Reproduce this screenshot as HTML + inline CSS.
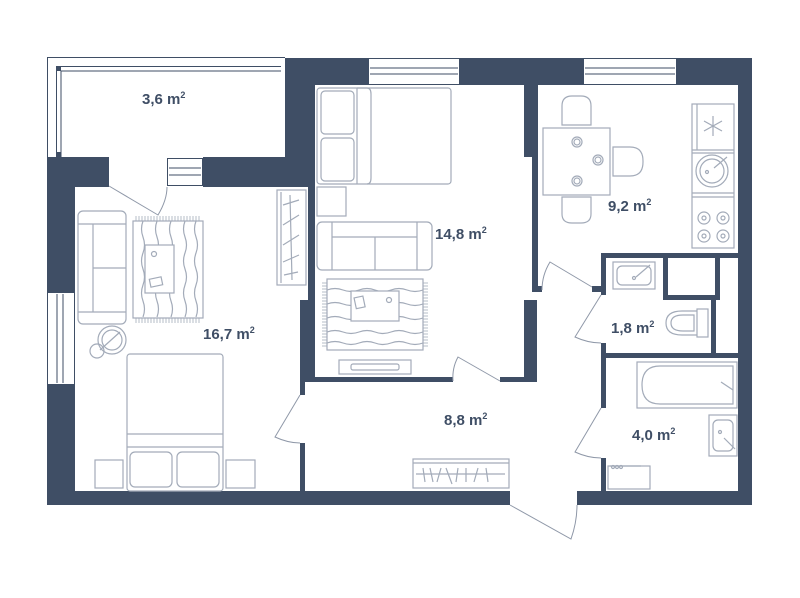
<!DOCTYPE html>
<html><head><meta charset="utf-8"><style>
html,body{margin:0;padding:0;background:#fff;}
svg{display:block;}
text{font-family:"Liberation Sans",sans-serif;font-weight:bold;fill:#3f4e65;}
</style></head><body>
<svg width="800" height="598" viewBox="0 0 800 598" xmlns="http://www.w3.org/2000/svg">
<defs>
<pattern id="fr" width="3" height="6" patternUnits="userSpaceOnUse"><line x1="1" y1="0" x2="1" y2="6" stroke="#a3abb9" stroke-width="0.8"/></pattern>
<pattern id="frv" width="6" height="3" patternUnits="userSpaceOnUse"><line x1="0" y1="1" x2="6" y2="1" stroke="#a3abb9" stroke-width="0.8"/></pattern>
</defs>
<g fill="#3f4e65">
<!-- top wall -->
<rect x="285" y="58" width="467" height="27"/>
<rect x="285" y="58" width="30" height="129"/>
<rect x="203" y="157" width="112" height="30"/>
<rect x="47" y="157" width="62" height="30"/>
<rect x="47" y="157" width="28" height="135"/>
<rect x="47" y="385" width="28" height="120"/>
<rect x="47" y="491" width="463" height="14"/>
<rect x="577" y="491" width="175" height="14"/>
<rect x="738" y="58" width="14" height="447"/>
<!-- living/bedroom wall -->
<rect x="308" y="185" width="7" height="120"/>
<rect x="300" y="300" width="15" height="82"/>
<rect x="300" y="377" width="153" height="5"/>
<rect x="500" y="377" width="33" height="5"/>
<rect x="300" y="377" width="5" height="18"/>
<rect x="300" y="443" width="5" height="50"/>
<!-- living/kitchen wall -->
<rect x="524" y="58" width="14" height="99"/>
<rect x="532" y="150" width="6" height="140"/>
<rect x="532" y="286" width="10" height="6"/>
<rect x="524" y="300" width="13" height="82"/>
<!-- bathroom block -->
<rect x="601" y="253" width="137" height="5"/>
<rect x="592" y="286" width="14" height="6"/>
<rect x="601" y="253" width="5" height="42"/>
<rect x="601" y="343" width="5" height="65"/>
<rect x="601" y="458" width="5" height="35"/>
<rect x="601" y="353" width="137" height="5"/>
<rect x="663" y="253" width="57" height="47"/>
<rect x="711" y="295" width="5" height="60"/>
</g>
<!-- shaft inner -->
<rect x="668" y="258" width="47" height="37" fill="#fff"/>
<!-- windows -->
<g fill="#fff" stroke="#a3abb9" stroke-width="1">
<rect x="368" y="58" width="92" height="27" stroke="none"/>
<rect x="583" y="58" width="94" height="27" stroke="none"/>
<rect x="167" y="158" width="36" height="28" stroke="none"/>
<rect x="47" y="292" width="28" height="93" stroke="none"/>
</g>
<g stroke="#3f4e65" stroke-width="1" fill="none">
<rect x="368.5" y="58.5" width="91" height="26"/>
<line x1="370" y1="68" x2="458" y2="68"/><line x1="370" y1="74" x2="458" y2="74"/>
<rect x="583.5" y="58.5" width="93" height="26"/>
<line x1="585" y1="68" x2="675" y2="68"/><line x1="585" y1="74" x2="675" y2="74"/>
<rect x="167.5" y="158.5" width="35" height="27"/>
<line x1="169" y1="168" x2="201" y2="168"/><line x1="169" y1="175" x2="201" y2="175"/>
<rect x="47.5" y="292.5" width="27" height="92"/>
<line x1="57" y1="294" x2="57" y2="383"/><line x1="63" y1="294" x2="63" y2="383"/>
<!-- balcony -->
<path d="M47.5 157 V57.5 H285"/>
<path d="M56.5 157 V66.5 H281"/>
<path d="M61 157 V71 H281"/>
</g>
<rect x="56" y="66" width="5" height="5" fill="#3f4e65"/>
<rect x="56" y="152" width="5" height="5" fill="#3f4e65"/>
<!-- doors -->
<g stroke="#8f98a8" stroke-width="1" fill="none">
<path d="M109 186 L158 215 Q167 200 167 187"/>
<path d="M300 395 L275 437 Q288 443 300 443"/>
<path d="M500 381 L458 357 Q452 368 453 381"/>
<path d="M592 287 L550 262 Q542 275 542 290"/>
<path d="M601 295 L575 337 Q588 343 601 343"/>
<path d="M601 408 L575 452 Q588 458 601 458"/>
<path d="M510 505 L571 539 Q577 522 577 505"/>
</g>
<!-- furniture -->
<g stroke="#a3abb9" stroke-width="1.2" fill="none">
<!-- living bed -->
<rect x="317" y="88" width="134" height="96" rx="3"/>
<rect x="321" y="91" width="33" height="43" rx="4"/>
<rect x="321" y="138" width="33" height="43" rx="4"/>
<line x1="357" y1="88" x2="357" y2="184"/>
<path d="M357 88 H367 Q371 88 371 94 V178 Q371 184 367 184"/>
<rect x="317" y="187" width="29" height="29"/>
<!-- living sofa -->
<rect x="317" y="222" width="115" height="48" rx="5"/>
<path d="M332 222 V270 M417 222 V270 M332 237 H417 M375 237 V270"/>
<!-- living rug -->
<rect x="327" y="279" width="96" height="71"/>
<rect x="322" y="281" width="5" height="67" fill="url(#frv)" stroke="none"/>
<rect x="423" y="281" width="5" height="67" fill="url(#frv)" stroke="none"/>
<path d="M327 290 q8 -3 16 0 t16 0 t16 0 t16 0 t16 0 t16 0 M327 304 q8 -3 16 0 t16 0 t16 0 t16 0 t16 0 t16 0 M327 318 q8 -3 16 0 t16 0 t16 0 t16 0 t16 0 t16 0 M327 332 q8 -3 16 0 t16 0 t16 0 t16 0 t16 0 t16 0 M327 343 q8 -3 16 0 t16 0 t16 0 t16 0 t16 0 t16 0"/>
<rect x="351" y="291" width="48" height="30" fill="#fff"/>
<rect x="355" y="297" width="9" height="11" transform="rotate(-12 359 302)"/>
<circle cx="389" cy="300" r="2.5"/>
<!-- tv -->
<rect x="339" y="360" width="72" height="14"/>
<rect x="351" y="364" width="48" height="6" rx="2"/>
<!-- bedroom sofa -->
<rect x="78" y="211" width="48" height="113" rx="5"/>
<path d="M93 224 V312 M78 224 H126 M78 312 H126 M93 268 H126"/>
<!-- bedroom rug -->
<rect x="133" y="221" width="70" height="97"/>
<rect x="135" y="216" width="66" height="5" fill="url(#fr)" stroke="none"/>
<rect x="135" y="318" width="66" height="5" fill="url(#fr)" stroke="none"/>
<path d="M143 221 q-3 8 0 16 t0 16 t0 16 t0 16 t0 16 t0 16 M157 221 q-3 8 0 16 t0 16 t0 16 t0 16 t0 16 t0 16 M171 221 q-3 8 0 16 t0 16 t0 16 t0 16 t0 16 t0 16 M185 221 q-3 8 0 16 t0 16 t0 16 t0 16 t0 16 t0 16 M196 221 q-3 8 0 16 t0 16 t0 16 t0 16 t0 16 t0 16"/>
<rect x="145" y="245" width="29" height="48" fill="#fff"/>
<circle cx="154" cy="254" r="2.5"/>
<rect x="150" y="278" width="12" height="8" transform="rotate(-12 156 282)"/>
<!-- wardrobe -->
<rect x="277" y="190" width="29" height="95"/>
<line x1="281" y1="192" x2="281" y2="283"/>
<path d="M290 195 L292 280 M283 205 L299 200 M283 225 L299 215 M283 245 L299 235 M283 262 L299 255 M284 275 L298 272"/>
<!-- chair -->
<circle cx="112" cy="340" r="14"/><circle cx="112" cy="340" r="10"/>
<circle cx="97" cy="351" r="7"/>
<line x1="100" y1="350" x2="120" y2="332"/>
<!-- bedroom bed -->
<rect x="127" y="354" width="96" height="137" rx="3"/>
<line x1="127" y1="434" x2="223" y2="434"/><line x1="127" y1="447" x2="223" y2="447"/>
<rect x="130" y="452" width="42" height="35" rx="5"/>
<rect x="177" y="452" width="42" height="35" rx="5"/>
<rect x="95" y="460" width="28" height="28"/>
<rect x="226" y="460" width="29" height="28"/>
<!-- hallway shelf -->
<rect x="413" y="459" width="96" height="29"/>
<line x1="413" y1="463" x2="509" y2="463"/>
<path d="M416 474 H505 M423 468 L425 482 M430 468 L433 482 M437 482 L441 468 M446 468 L452 484 M458 468 L456 482 M466 468 L466 482 M474 482 L478 468 M486 468 L488 482"/>
<!-- kitchen -->
<rect x="543" y="128" width="67" height="67"/>
<path d="M562 125 V106 Q562 96 572 96 H581 Q591 96 591 106 V125 Z"/>
<path d="M562 197 V214 Q562 223 572 223 H581 Q591 223 591 214 V197 Z"/>
<path d="M613 147 H630 Q643 147 643 161 V162 Q643 176 630 176 H613 Z"/>
<circle cx="577" cy="142" r="5"/><circle cx="577" cy="142" r="3"/>
<circle cx="577" cy="181" r="5"/><circle cx="577" cy="181" r="3"/>
<circle cx="598" cy="160" r="5"/><circle cx="598" cy="160" r="3"/>
<rect x="692" y="104" width="42" height="144"/>
<line x1="697" y1="104" x2="697" y2="150"/>
<path d="M692 150 H734 M692 153 H734 M692 193 H734 M692 197 H734"/>
<path d="M713 116 V136 M704 121 L722 131 M722 121 L704 131"/>
<circle cx="712" cy="171" r="16"/><circle cx="712" cy="171" r="12"/>
<circle cx="707" cy="172" r="1.5"/><line x1="714" y1="168" x2="727" y2="157"/>
<circle cx="704" cy="218" r="6"/><circle cx="723" cy="218" r="6"/>
<circle cx="704" cy="236" r="6"/><circle cx="723" cy="236" r="6"/>
<circle cx="704" cy="218" r="2"/><circle cx="723" cy="218" r="2"/>
<circle cx="704" cy="236" r="2"/><circle cx="723" cy="236" r="2"/>
<!-- wc -->
<rect x="613" y="262" width="42" height="27"/>
<rect x="617" y="266" width="34" height="19" rx="5"/>
<circle cx="634" cy="278" r="1.5"/><line x1="636" y1="277" x2="650" y2="265"/>
<rect x="697" y="309" width="11" height="28"/>
<path d="M697 311 H682 Q666 311 666 323 Q666 335 682 335 H697"/>
<path d="M694 315 H683 Q671 315 671 323 Q671 331 683 331 H694 Z"/>
<!-- bath -->
<rect x="637" y="362" width="100" height="46"/>
<path d="M733 366 H660 Q642 366 642 385 Q642 404 660 404 H733 Z"/>
<line x1="721" y1="382" x2="733" y2="390"/>
<rect x="709" y="415" width="28" height="41"/>
<rect x="713" y="420" width="20" height="31" rx="5"/>
<circle cx="720" cy="432" r="1.5"/><line x1="724" y1="438" x2="735" y2="449"/>
<rect x="608" y="466" width="42" height="23"/>
<line x1="610" y1="466" x2="641" y2="466"/>
<circle cx="613" cy="467" r="1.5"/><circle cx="617" cy="467" r="1.5"/><circle cx="621" cy="467" r="1.5"/>
</g>
<!-- labels -->
<g font-size="15">
<text x="142" y="104">3,6 m<tspan font-size="9" dy="-6">2</tspan></text>
<text x="435" y="239">14,8 m<tspan font-size="9" dy="-6">2</tspan></text>
<text x="608" y="211">9,2 m<tspan font-size="9" dy="-6">2</tspan></text>
<text x="203" y="339">16,7 m<tspan font-size="9" dy="-6">2</tspan></text>
<text x="611" y="333">1,8 m<tspan font-size="9" dy="-6">2</tspan></text>
<text x="444" y="425">8,8 m<tspan font-size="9" dy="-6">2</tspan></text>
<text x="632" y="440">4,0 m<tspan font-size="9" dy="-6">2</tspan></text>
</g>
</svg>
</body></html>
